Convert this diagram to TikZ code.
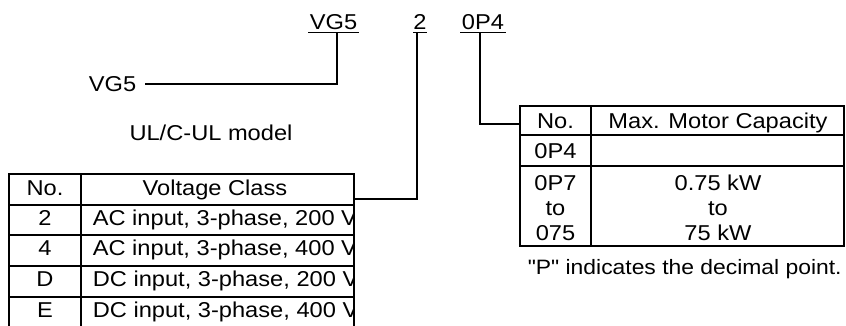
\documentclass[tikz,border=0pt]{standalone}
\usepackage{fontspec}
\setmainfont{Liberation Sans}[FakeStretch=1.1]
\newfontfamily\notefont{Liberation Sans}[FakeStretch=1.1]
\begin{document}
\begin{tikzpicture}[x=1pt,y=-1pt,line width=1.6pt,
  txt/.style={inner sep=0pt,font=\fontsize{21.5}{25}\selectfont},
  bl/.style={txt,anchor=base},
  bw/.style={txt,anchor=base west},
  grid/.style={line width=1.6pt},
  link/.style={line width=1.6pt},
  uline/.style={line width=1.3pt}]
\useasboundingbox (0,0) rectangle (846,325);
\clip (0,0) rectangle (846,325);
% code letters
\node[bl] (cvg) at (333.5,29) {VG5};
\node[bl] (cv) at (420,29) {2};
\node[bl] (ccap) at (483,29) {0P4};
\draw[uline] (308,32.5) -- (359,32.5);
\draw[uline] (413,32.5) -- (427,32.5);
\draw[uline] (460,32.5) -- (506,32.5);
\coordinate (u1) at (337,32.5);
\coordinate (u2) at (417,32.5);
\coordinate (u3) at (480,32.5);
% series
\node[txt,anchor=east] (vg5) at (137,84) {VG5};
\draw[link] (u1) |- ([xshift=8pt]vg5.east);
\node[bl] (ul) at (211,140) {UL/C-UL model};
% voltage table
\draw[grid] (9,330) -- (9,174) -- (354,174) -- (354,330);
\draw[grid] (81,174) -- (81,330);
\foreach \yy in {205,235,266,297} \draw[grid] (9,\yy) -- (354,\yy);
\node[bl] (vno) at (45,195.3) {No.};
\node[bl] (vcls) at (215,195.3) {Voltage Class};
\node[bl] (v2) at (45,225.5) {2};
\node[bl] (v4) at (45,255.5) {4};
\node[bl] (vD) at (45,286.5) {D};
\node[bl] (vE) at (45,317) {E};
\begin{scope}
\clip (82,175) rectangle (353.2,330);
\node[bw] (t2) at (92,225.5) {AC input, 3-phase, 200 V};
\node[bw] (t4) at (92,255.5) {AC input, 3-phase, 400 V};
\node[bw] (tD) at (92,286.5) {DC input, 3-phase, 200 V};
\node[bw] (tE) at (92,317) {DC input, 3-phase, 400 V};
\end{scope}
\coordinate (vt) at (354,199);
\draw[link] (u2) |- (vt);
% capacity table
\draw[grid] (520,106) rectangle (844,246);
\draw[grid] (591,106) -- (591,246);
\draw[grid] (520,135) -- (844,135);
\draw[grid] (520,166) -- (844,166);
\node[bl] (cno) at (555.5,128) {No.};
\node[bl] (chd) at (718,128) {Max. Motor Capacity};
\node[bl] (c04) at (555.5,158) {0P4};
\node[bl] (c07) at (555.5,190) {0P7};
\node[bl] (cto) at (555.5,215) {to};
\node[bl] (c75) at (555.5,240) {075};
\node[bl] (k07) at (718,190) {0.75 kW};
\node[bl] (kto) at (718,215) {to};
\node[bl] (k75) at (718,240) {75 kW};
\coordinate (mt) at (520,124);
\draw[link] (u3) |- (mt);
\node[bw,font=\notefont\fontsize{20.8}{25}\selectfont] (note) at (527,274) {"P" indicates the decimal point.};
\end{tikzpicture}
\end{document}
